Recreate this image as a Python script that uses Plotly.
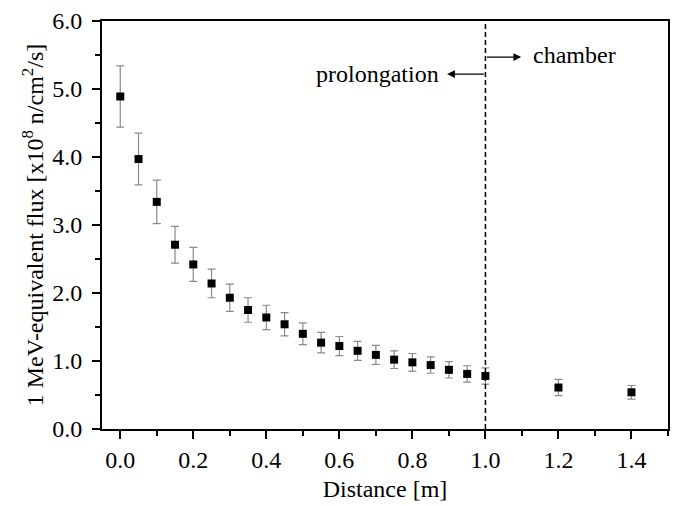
import plotly.graph_objects as go

distance = [0.0, 0.05, 0.1, 0.15, 0.2, 0.25, 0.3, 0.35, 0.4, 0.45, 0.5, 0.55,
            0.6, 0.65, 0.7, 0.75, 0.8, 0.85, 0.9, 0.95, 1.0, 1.2, 1.4]
flux = [4.89, 3.97, 3.34, 2.71, 2.42, 2.14, 1.93, 1.75, 1.64, 1.54, 1.40, 1.27,
        1.22, 1.15, 1.09, 1.02, 0.98, 0.94, 0.87, 0.81, 0.78, 0.61, 0.54]
flux_err = [0.45, 0.38, 0.32, 0.27, 0.25, 0.21, 0.20, 0.18, 0.18, 0.17, 0.16, 0.15,
            0.14, 0.14, 0.14, 0.13, 0.13, 0.12, 0.12, 0.12, 0.12, 0.12, 0.10]

FONT = "Liberation Serif, Times New Roman, serif"
FS = 24

fig = go.Figure()
fig.add_trace(go.Scatter(
    x=distance, y=flux, mode="markers",
    marker=dict(symbol="square", size=8, color="black"),
    error_y=dict(type="data", array=flux_err, visible=True,
                 color="#8a8a8a", thickness=1.2, width=4),
    showlegend=False,
))

fig.add_shape(type="line", x0=1.0, x1=1.0, y0=0, y1=1, xref="x", yref="paper",
              line=dict(color="black", width=1.5, dash="5px,3px"))

fig.add_annotation(x=1.098, y=5.47, ax=1.0, ay=5.47, xref="x", yref="y",
                   axref="x", ayref="y", showarrow=True, arrowhead=2,
                   arrowsize=1.2, arrowwidth=1.3, arrowcolor="black", text="")
fig.add_annotation(x=0.895, y=5.22, ax=1.0, ay=5.22, xref="x", yref="y",
                   axref="x", ayref="y", showarrow=True, arrowhead=2,
                   arrowsize=1.2, arrowwidth=1.3, arrowcolor="black", text="")
fig.add_annotation(x=1.126, y=5.5, xref="x", yref="y", text="chamber",
                   showarrow=False, xanchor="left", yanchor="middle",
                   font=dict(family=FONT, size=FS, color="black"))
fig.add_annotation(x=0.878, y=5.22, xref="x", yref="y", text="prolongation",
                   showarrow=False, xanchor="right", yanchor="middle",
                   font=dict(family=FONT, size=FS, color="black"))

axis_common = dict(showline=True, linecolor="black", linewidth=1.8, mirror=True,
                   ticks="outside", ticklen=8, tickwidth=1.5, tickcolor="black",
                   showgrid=False, zeroline=False,
                   tickfont=dict(family=FONT, size=FS, color="black"))

fig.update_xaxes(range=[-0.05, 1.5], tick0=0, dtick=0.2, tickformat=".1f",
                 minor=dict(dtick=0.1, ticks="outside", ticklen=5, tickwidth=1.5,
                            tickcolor="black"),
                 title=dict(text="Distance [m]", standoff=8,
                            font=dict(family=FONT, size=FS, color="black")),
                 **axis_common)
fig.update_yaxes(range=[0, 6], tick0=0, dtick=1, tickformat=".1f",
                 ticklabelstandoff=5,
                 minor=dict(dtick=0.5, ticks="outside", ticklen=5, tickwidth=1.5,
                            tickcolor="black"),
                 title=dict(text="1 MeV-equivalent flux [x10<sup>8</sup> n/cm<sup>2</sup>/s]",
                            standoff=2,
                            font=dict(family=FONT, size=FS, color="black")),
                 **axis_common)

fig.update_layout(width=678, height=506, plot_bgcolor="white", paper_bgcolor="white",
                  margin=dict(l=102, r=8, t=17, b=72))

# remove the page's default body margin so the figure sits at the top-left corner
fig.write_html("out.html", config={"displayModeBar": False},
               post_script="document.body.style.margin='0px';")
